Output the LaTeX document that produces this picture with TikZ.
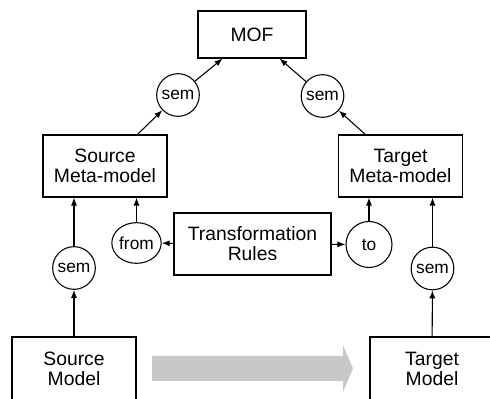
\documentclass[tikz,border=0pt]{standalone}
\usepackage{fontspec}
\setmainfont{Liberation Sans}
\usetikzlibrary{arrows.meta,shapes.geometric}

\definecolor{flowgray}{RGB}{200,200,202}

\begin{document}
\begin{tikzpicture}[x=0.75pt,y=-0.75pt,line width=0.8pt,
  >={Latex[length=6pt,width=4.5pt]},
  box/.style={draw,rectangle,align=center,inner sep=0pt,
    font=\fontsize{14.5}{15}\selectfont},
  tag/.style={draw,circle,inner sep=0pt,minimum size=32pt,
    font=\fontsize{13}{13}\selectfont}]
\useasboundingbox (0,0) rectangle (490,399);
\clip (0,0) rectangle (490,399);
% boxes
\node[box,minimum width=81pt,minimum height=35.25pt] (mof) at (252,34.5) {MOF};
\node[box,minimum width=93pt,minimum height=46.5pt] (srcmeta) at (105,166) {Source\\Meta-model};
\node[box,minimum width=93pt,minimum height=46.5pt] (tgtmeta) at (400.5,166) {Target\\Meta-model};
\node[box,minimum width=117.75pt,minimum height=46.5pt] (rules) at (252.5,244) {Transformation\\Rules};
\node[box,minimum width=93pt,minimum height=48pt] (srcmodel) at (74,369) {Source\\Model};
\node[box,minimum width=93pt,minimum height=48pt] (tgtmodel) at (432,369) {Target\\Model};
% circles
\foreach \n/\x/\y in {semsrcmeta/178/95, semtgtmeta/322.5/96, semsrcmodel/74/268, semtgtmodel/432.5/268.5}
\node[tag] (\n) at (\x,\y) {sem};
\node[tag,ellipse,minimum width=37pt,minimum height=30.5pt] (fromtag) at (136.5,243) {from};
\node[tag,minimum size=34.5pt] (totag) at (369,244.5) {to};
% connectors
\draw[->] (semsrcmeta) -- (mof);
\draw[->] (semtgtmeta) -- (mof);
\draw[->] (srcmeta) -- (semsrcmeta);
\draw[->] (tgtmeta) -- (semtgtmeta);
\draw[->] (semsrcmodel) -- (semsrcmodel |- srcmeta.south);
\draw[->] (semtgtmodel) -- (semtgtmodel |- tgtmeta.south);
\draw[->] (fromtag) -- (fromtag |- srcmeta.south);
\draw[->] (totag) -- (totag |- tgtmeta.south);
\draw[->] (rules) -- (fromtag);
\draw[->] (rules) -- (totag);
\draw[->] (srcmodel) -- (semsrcmodel);
\draw[->] (tgtmodel) -- (semtgtmodel);
% big gray arrow
\fill[flowgray] (152,356) -- (343,356) -- (343,345) -- (353,368.5) -- (343,392) -- (343,381) -- (152,381) -- cycle;
\end{tikzpicture}
\end{document}
